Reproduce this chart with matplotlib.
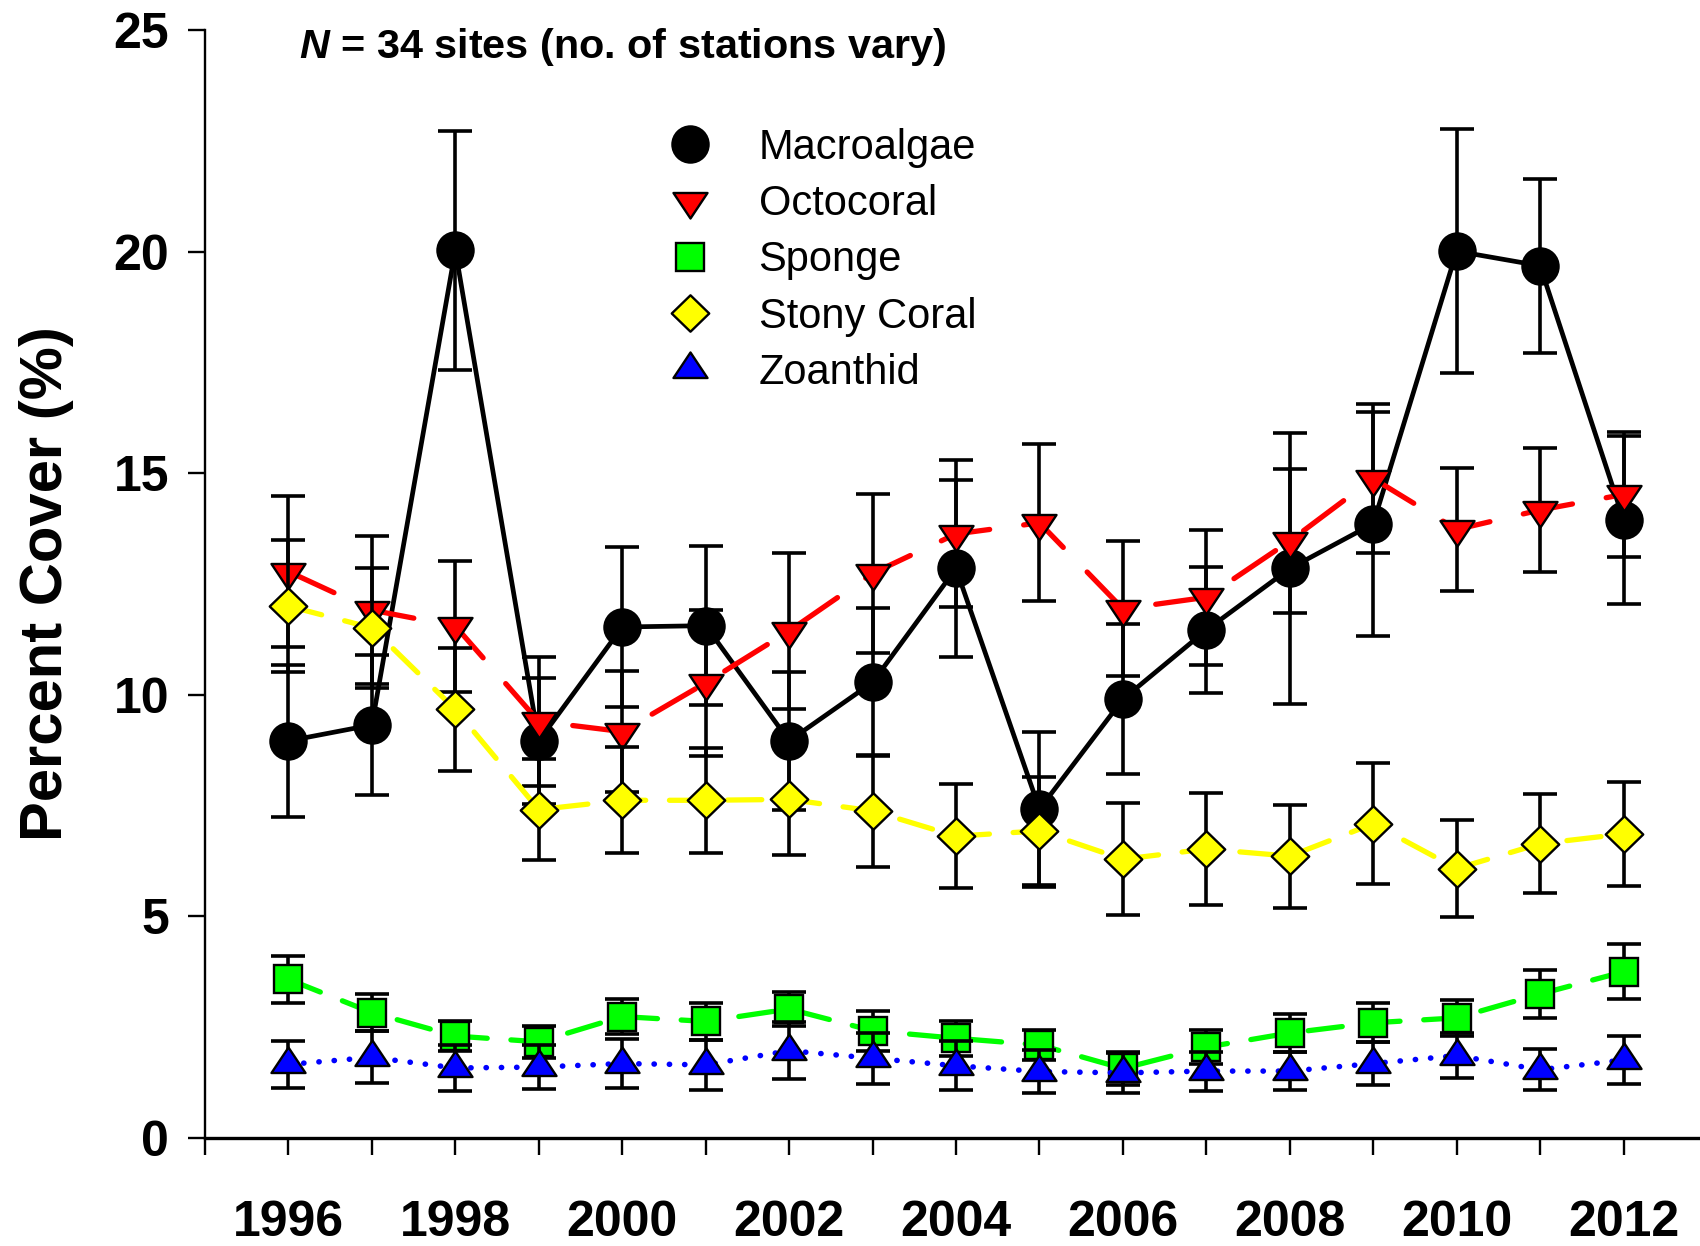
import numpy as np
import matplotlib
matplotlib.use("Agg")
import matplotlib.pyplot as plt
from matplotlib.path import Path
from matplotlib.lines import Line2D

# ---------------- data ----------------
years = list(range(1996, 2013))
macroalgae = [8.96, 9.32, 20.03, 8.96, 11.53, 11.56, 8.96, 10.28, 12.85, 7.42, 9.90, 11.46, 12.85, 13.86, 20.01, 19.68, 13.95]
macroalgae_se = [1.71, 1.58, 2.70, 1.43, 1.81, 1.80, 1.55, 1.67, 1.99, 1.75, 1.69, 1.43, 3.05, 2.53, 2.75, 1.96, 1.90]
octocoral = [12.78, 11.91, 11.55, 9.40, 9.17, 10.27, 11.44, 12.74, 13.63, 13.88, 11.94, 12.20, 13.47, 14.88, 13.73, 14.17, 14.52]
octocoral_se = [1.70, 1.67, 1.48, 1.45, 1.36, 1.64, 1.75, 1.80, 1.66, 1.77, 1.52, 1.52, 1.63, 1.68, 1.39, 1.39, 1.41]
sponge = [3.58, 2.83, 2.30, 2.17, 2.74, 2.63, 2.91, 2.42, 2.25, 2.10, 1.57, 2.05, 2.37, 2.60, 2.71, 3.25, 3.75]
sponge_se = [0.53, 0.42, 0.34, 0.36, 0.39, 0.42, 0.38, 0.45, 0.39, 0.34, 0.38, 0.39, 0.42, 0.44, 0.40, 0.54, 0.62]
stony_coral = [12.00, 11.51, 9.67, 7.41, 7.62, 7.62, 7.64, 7.38, 6.81, 6.93, 6.29, 6.52, 6.36, 7.09, 6.08, 6.64, 6.86]
stony_coral_se = [1.49, 1.36, 1.39, 1.14, 1.20, 1.18, 1.26, 1.26, 1.18, 1.22, 1.26, 1.26, 1.16, 1.36, 1.09, 1.12, 1.17]
zoanthid = [1.66, 1.82, 1.58, 1.60, 1.68, 1.65, 1.97, 1.80, 1.63, 1.50, 1.47, 1.51, 1.51, 1.68, 1.86, 1.54, 1.76]
zoanthid_se = [0.53, 0.59, 0.52, 0.50, 0.56, 0.57, 0.65, 0.58, 0.55, 0.48, 0.45, 0.44, 0.43, 0.48, 0.51, 0.46, 0.54]

labels = ["Macroalgae", "Octocoral", "Sponge", "Stony Coral", "Zoanthid"]
ytick_vals = [0, 5, 10, 15, 20, 25]
xtick_labelled = list(range(1996, 2013, 2))

# ---------------- styling ----------------
plt.rcParams['font.family'] = ['Liberation Sans', 'DejaVu Sans']
plt.rcParams['mathtext.fontset'] = 'custom'
plt.rcParams['mathtext.it'] = 'Liberation Sans:italic:bold'
plt.rcParams['mathtext.rm'] = 'Liberation Sans:bold'

# triangles centred on their centroid (base half-width 1, height 1.5)
tri_up = Path([(0, 1.0), (-1, -0.5), (1, -0.5), (0, 1.0)],
              [Path.MOVETO, Path.LINETO, Path.LINETO, Path.CLOSEPOLY])
tri_down = Path([(0, -1.0), (-1, 0.5), (1, 0.5), (0, -1.0)],
                [Path.MOVETO, Path.LINETO, Path.LINETO, Path.CLOSEPOLY])
diamond = Path([(0, 1), (1.03, 0), (0, -1), (-1.03, 0), (0, 1)],
               [Path.MOVETO, Path.LINETO, Path.LINETO, Path.LINETO, Path.CLOSEPOLY])

series = [
    dict(y=macroalgae, e=macroalgae_se, color='black', marker='o', ms=26, dashes=None, lw=3.4),
    dict(y=octocoral, e=octocoral_se, color='#FF0000', marker=tri_down, ms=24.5, dashes=(9.5, 6.5), lw=3.8),
    dict(y=sponge, e=sponge_se, color='#00FF00', marker='s', ms=20.5, dashes=(6.5, 4.5), lw=3.8),
    dict(y=stony_coral, e=stony_coral_se, color='#FFFF00', marker=diamond, ms=27, dashes=(6.5, 4.5), lw=3.8),
    dict(y=zoanthid, e=zoanthid_se, color='#0000FF', marker=tri_up, ms=24.5, dashes=(0.05, 2.7), lw=4.0),
]

fig = plt.figure(figsize=(17, 12.46), dpi=100)
ax = fig.add_axes([205/1700, 108/1246, 1502/1700, 1108/1246])

z = 2
for s in series:
    ax.errorbar(years, s['y'], yerr=s['e'], fmt='none', ecolor='black',
                elinewidth=2.6, capsize=12, capthick=2.6, zorder=z)
    kw = dict(color=s['color'], lw=s['lw'], marker=s['marker'], ms=s['ms'],
              mfc=s['color'], mec='black', mew=1.7, zorder=z + 0.5,
              solid_capstyle='round', dash_capstyle='round')
    line, = ax.plot(years, s['y'], **kw)
    if s['dashes'] is not None:
        line.set_dashes(s['dashes'])
    z += 1

ax.set_xlim(1995, 2013)
ax.set_ylim(0, 25)
ax.spines['top'].set_visible(False)
ax.spines['right'].set_visible(False)
ax.spines['left'].set_linewidth(1.7)
ax.spines['bottom'].set_linewidth(2.4)

ax.set_yticks(ytick_vals)
ax.set_yticklabels([str(v) for v in ytick_vals], fontweight='bold')
ax.set_xticks(xtick_labelled)
ax.set_xticklabels([str(v) for v in xtick_labelled], fontweight='bold')
ax.set_xticks([v for v in range(1995, 2014) if v not in xtick_labelled], minor=True)
ax.tick_params(axis='both', which='both', direction='out', length=12, width=1.7)
ax.tick_params(axis='x', which='major', labelsize=36, pad=33)
ax.tick_params(axis='y', which='major', labelsize=36, pad=14)

ax.set_ylabel('Percent Cover (%)', fontsize=43, fontweight='bold')
ax.yaxis.set_label_coords(-0.0875, 0.5)

fig.text(299/1700, 1 - 47/1246, r'$N$ = 34 sites (no. of stations vary)',
         fontsize=29.8, fontweight='bold', ha='left', va='center')

handles = []
for s in series:
    handles.append(Line2D([], [], ls='none', marker=s['marker'], ms=s['ms'],
                          mfc=s['color'], mec='black', mew=1.7))
leg = ax.legend(handles, labels, loc='upper left',
                bbox_to_anchor=(669/1700, 1 - 128/1246), bbox_transform=fig.transFigure,
                frameon=False, prop={'size': 30, 'weight': 'normal'},
                handlelength=1.0, handletextpad=1.15, labelspacing=0.39,
                borderpad=0, borderaxespad=0, numpoints=1)

fig.savefig('out.png', dpi=100)
